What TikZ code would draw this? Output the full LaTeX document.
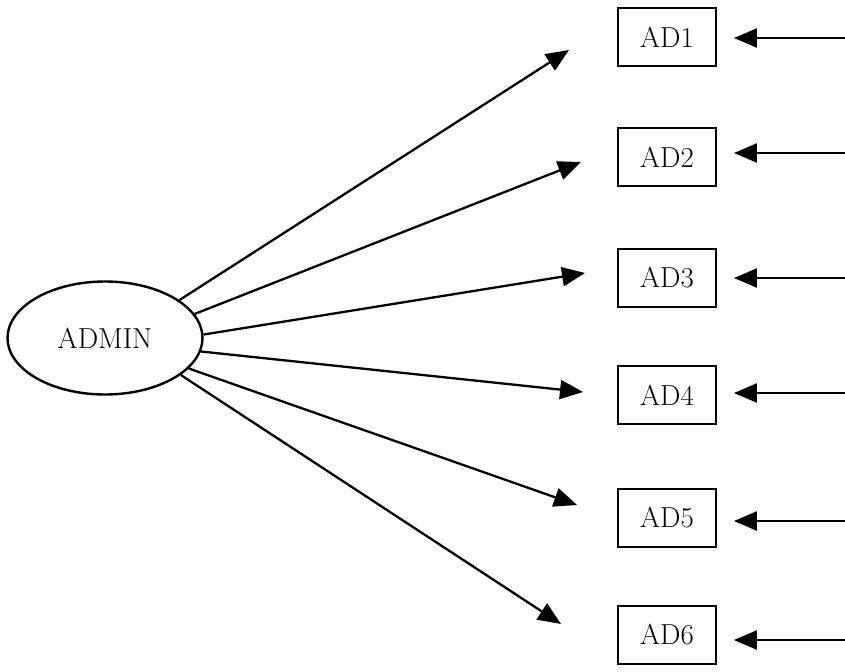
\documentclass[tikz,border=0pt]{standalone}
\usepackage{fontspec}
\setmainfont{Latin Modern Roman}
\usetikzlibrary{shapes.geometric,arrows.meta}
\begin{document}
\begin{tikzpicture}[x=1bp,y=-1bp,
  every node/.style={font=\fontsize{29}{33}\selectfont},
  latent/.style={draw,ellipse,line width=2.4bp,minimum width=195bp,minimum height=113bp,inner sep=0pt},
  obsbox/.style={draw,rectangle,line width=1.8bp,minimum width=98bp,minimum height=58bp,inner sep=0pt},
  arr/.style={line width=2.3bp,-{Triangle[length=23bp,width=19bp]}},
]
\useasboundingbox (0,0) rectangle (845,672);
\node[latent] (admin) at (105,338) {ADMIN};
\node[obsbox] (ad1) at (667,37) {AD1};
\node[obsbox] (ad2) at (667,157) {AD2};
\node[obsbox] (ad3) at (667,278) {AD3};
\node[obsbox] (ad4) at (667,395) {AD4};
\node[obsbox] (ad5) at (667,518) {AD5};
\node[obsbox] (ad6) at (667,635) {AD6};
% free ends of the loading arrows
\coordinate (t1) at (569,50);
\coordinate (t2) at (581,162);
\coordinate (t3) at (585,273);
\coordinate (t4) at (583,392);
\coordinate (t5) at (577,505);
\coordinate (t6) at (561,624);
\draw[arr] (admin.27) -- (t1);
\draw[arr] (admin.15) -- (t2);
\draw[arr] (admin.2) -- (t3);
\draw[arr] (admin.-8) -- (t4);
\draw[arr] (admin.-20) -- (t5);
\draw[arr] (admin.-26) -- (t6);
% error arrows
\coordinate (e1) at (845,38);
\coordinate (e2) at (845,153);
\coordinate (e3) at (845,278);
\coordinate (e4) at (845,393);
\coordinate (e5) at (845,521);
\coordinate (e6) at (845,640);
\draw[arr,shorten >=17bp] (e1) -- (e1 -| ad1.east);
\draw[arr,shorten >=17bp] (e2) -- (e2 -| ad2.east);
\draw[arr,shorten >=17bp] (e3) -- (e3 -| ad3.east);
\draw[arr,shorten >=17bp] (e4) -- (e4 -| ad4.east);
\draw[arr,shorten >=17bp] (e5) -- (e5 -| ad5.east);
\draw[arr,shorten >=17bp] (e6) -- (e6 -| ad6.east);
\end{tikzpicture}
\end{document}
